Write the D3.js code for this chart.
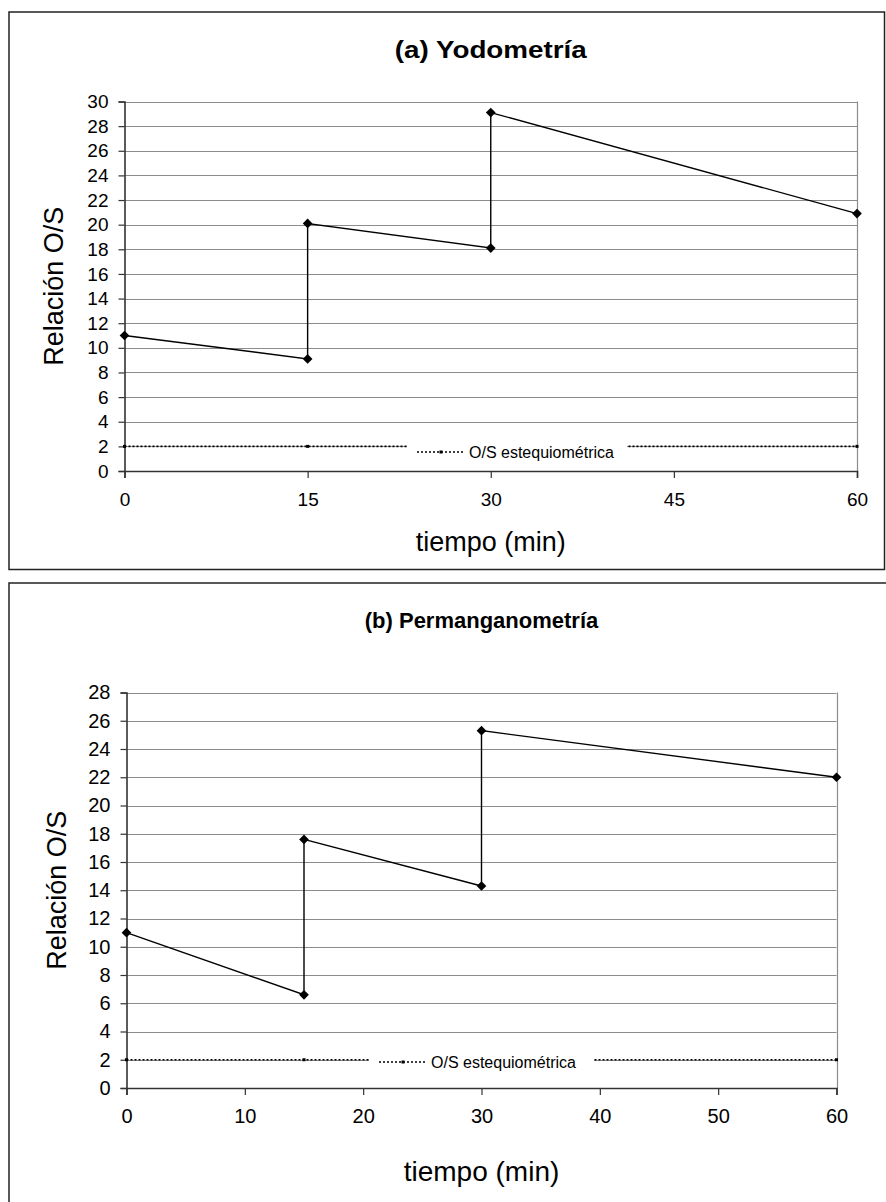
<!DOCTYPE html>
<html>
<head>
<meta charset="utf-8">
<script src="https://cdn.jsdelivr.net/npm/d3@7/dist/d3.min.js"></script>
<style>
  html, body { margin: 0; padding: 0; background: #fff; }
  svg { display: block; font-family: Arial, "Liberation Sans", sans-serif; }
</style>
</head>
<body>
<svg id="chart" width="886" height="1202"></svg>
<script>
// Time (min) and O/S ratio for each titration method
const timeA = [0, 15, 15, 30, 30, 60];
const ratioA = [11, 9.1, 20.1, 18.1, 29.1, 20.9];
const timeB = [0, 15, 15, 30, 30, 60];
const ratioB = [11, 6.6, 17.6, 14.3, 25.3, 22];

// Stoichiometric O/S reference line
const stoichTime = [0, 15, 30, 60];
const stoichRatio = [2, 2, 2, 2];
const stoichLabel = "O/S estequiométrica";

// Axis ticks
const xTicksA = [0, 15, 30, 45, 60];
const yTicksA = [0, 2, 4, 6, 8, 10, 12, 14, 16, 18, 20, 22, 24, 26, 28, 30];
const xTicksB = [0, 10, 20, 30, 40, 50, 60];
const yTicksB = [0, 2, 4, 6, 8, 10, 12, 14, 16, 18, 20, 22, 24, 26, 28];

const titles = ["(a) Yodometría", "(b) Permanganometría"];
const xTitle = "tiempo (min)";
const yTitle = "Relación O/S";

const svg = d3.select("#chart");

function drawPanel(cfg) {
  const g = svg.append("g");

  // frame around the panel
  g.append("rect")
    .attr("x", cfg.box.x).attr("y", cfg.box.y)
    .attr("width", cfg.box.w).attr("height", cfg.box.h)
    .attr("fill", "#fff").attr("stroke", "#222").attr("stroke-width", 1.5);

  const x = d3.scaleLinear().domain([0, 60]).range([cfg.plot.left, cfg.plot.right]);
  const y = d3.scaleLinear().domain([0, cfg.yMax]).range([cfg.plot.bottom, cfg.plot.top]);

  // horizontal gridlines
  g.append("g").selectAll("line").data(cfg.yTicks.filter(d => d > 0)).join("line")
    .attr("x1", cfg.plot.left).attr("x2", cfg.plot.right)
    .attr("y1", d => Math.round(y(d)) + 0.5).attr("y2", d => Math.round(y(d)) + 0.5)
    .attr("stroke", "#8c8c8c").attr("stroke-width", 1);

  // right border of plot area
  g.append("line")
    .attr("x1", Math.round(cfg.plot.right) + 0.5).attr("x2", Math.round(cfg.plot.right) + 0.5)
    .attr("y1", cfg.plot.top).attr("y2", cfg.plot.bottom)
    .attr("stroke", "#8c8c8c").attr("stroke-width", 1.2);

  // axes
  const xAxis = d3.axisBottom(x).tickValues(cfg.xTicks).tickSize(7).tickPadding(cfg.xPad);
  const yAxis = d3.axisLeft(y).tickValues(cfg.yTicks).tickSize(6).tickPadding(10);

  const gx = g.append("g").attr("transform", `translate(0,${cfg.plot.bottom})`).call(xAxis);
  const gy = g.append("g").attr("transform", `translate(${cfg.plot.left},0)`).call(yAxis);
  [gx, gy].forEach(a => {
    a.select(".domain").attr("stroke", "#333").attr("stroke-width", 1.6);
    a.selectAll(".tick line").attr("stroke", "#333").attr("stroke-width", 1.2);
    a.selectAll(".tick text").attr("fill", "#000")
      .style("font-size", cfg.tickFont + "px")
      .style("font-family", "Arial, 'Liberation Sans', sans-serif");
  });

  // stoichiometric reference line (dotted)
  const stoich = stoichTime.map((t, i) => [t, stoichRatio[i]]);
  g.append("path")
    .datum(stoich)
    .attr("d", d3.line().x(d => x(d[0])).y(d => y(d[1])))
    .attr("fill", "none").attr("stroke", "#000").attr("stroke-width", 1.6)
    .attr("stroke-dasharray", "2,2");
  g.append("g").selectAll("rect").data(stoich).join("rect")
    .attr("x", d => x(d[0]) - 1.5).attr("y", d => y(d[1]) - 1.5)
    .attr("width", 3).attr("height", 3).attr("fill", "#000");

  // legend box for the reference line
  const lg = g.append("g");
  lg.append("rect")
    .attr("x", cfg.legend.x0).attr("y", cfg.legend.cy - 10)
    .attr("width", cfg.legend.x1 - cfg.legend.x0).attr("height", 20)
    .attr("fill", "#fff");
  lg.append("line")
    .attr("x1", cfg.legend.x0 + 10).attr("x2", cfg.legend.x0 + 58)
    .attr("y1", cfg.legend.cy).attr("y2", cfg.legend.cy)
    .attr("stroke", "#000").attr("stroke-width", 1.6).attr("stroke-dasharray", "2,2");
  lg.append("rect")
    .attr("x", cfg.legend.x0 + 32.5).attr("y", cfg.legend.cy - 1.5)
    .attr("width", 3).attr("height", 3).attr("fill", "#000");
  lg.append("text")
    .attr("x", cfg.legend.x0 + 62).attr("y", cfg.legend.cy)
    .attr("dy", "0.35em")
    .style("font-size", "16px")
    .text(stoichLabel);

  // measured series
  const pts = cfg.times.map((t, i) => [t, cfg.values[i]]);
  g.append("path")
    .datum(pts)
    .attr("d", d3.line().x(d => x(d[0])).y(d => y(d[1])))
    .attr("fill", "none").attr("stroke", "#000").attr("stroke-width", 1.4);
  g.append("g").selectAll("path").data(pts).join("path")
    .attr("transform", d => `translate(${x(d[0])},${y(d[1])})`)
    .attr("d", d3.symbol(d3.symbolDiamond2, 60)())
    .attr("fill", "#000");

  // titles
  const t = g.append("text")
    .attr("x", (cfg.plot.left + cfg.plot.right) / 2).attr("y", cfg.titleY)
    .attr("text-anchor", "middle").attr("dy", "0.35em")
    .style("font-size", cfg.titleFont + "px").style("font-weight", "bold")
    .text(cfg.title);
  if (cfg.titleLen) t.attr("textLength", cfg.titleLen).attr("lengthAdjust", "spacingAndGlyphs");
  g.append("text")
    .attr("x", (cfg.plot.left + cfg.plot.right) / 2).attr("y", cfg.xTitleY)
    .attr("text-anchor", "middle").attr("dy", "0.35em")
    .style("font-size", cfg.xTitleFont + "px")
    .text(xTitle);
  g.append("text")
    .attr("transform", `translate(${cfg.yTitleX},${(cfg.plot.top + cfg.plot.bottom) / 2}) rotate(-90)`)
    .attr("text-anchor", "middle").attr("dy", "0.35em")
    .style("font-size", "27px")
    .text(yTitle);
}

drawPanel({
  box: { x: 9, y: 12, w: 875.5, h: 557.5 },
  plot: { left: 124.5, right: 857, top: 101.5, bottom: 471 },
  yMax: 30, xTicks: xTicksA, yTicks: yTicksA,
  times: timeA, values: ratioA,
  tickFont: 19, xPad: 15,
  title: titles[0], titleFont: 23, titleLen: 192, titleY: 50,
  xTitleFont: 27, xTitleY: 542, yTitleX: 54,
  legend: { x0: 407, x1: 627, cy: 452 }
});

drawPanel({
  box: { x: 9, y: 583, w: 900, h: 640 },
  plot: { left: 126.5, right: 836.5, top: 692.5, bottom: 1088 },
  yMax: 28, xTicks: xTicksB, yTicks: yTicksB,
  times: timeB, values: ratioB,
  tickFont: 20, xPad: 14,
  title: titles[1], titleFont: 22, titleY: 620,
  xTitleFont: 28, xTitleY: 1171, yTitleX: 57,
  legend: { x0: 369, x1: 594, cy: 1062 }
});
</script>
</body>
</html>
